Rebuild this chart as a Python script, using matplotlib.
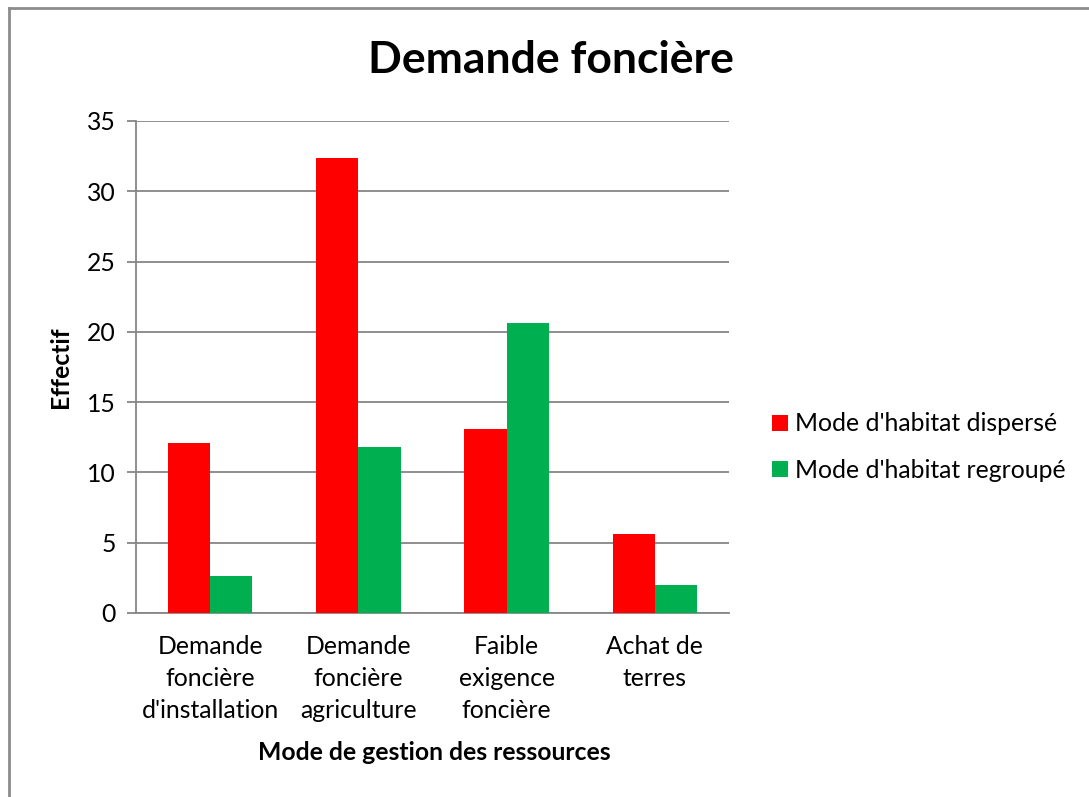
import numpy as np
import matplotlib.pyplot as plt
from matplotlib.lines import Line2D

plt.rcParams['font.family'] = ['Lato', 'DejaVu Sans']

categories = ["Demande\nfoncière\nd'installation", "Demande\nfoncière\nagriculture",
              "Faible\nexigence\nfoncière", "Achat de\nterres"]
disperse = [12.1, 32.4, 13.1, 5.6]
regroupe = [2.6, 11.8, 20.6, 2.0]
series_names = ["Mode d'habitat dispersé", "Mode d'habitat regroupé"]
y_ticks = [0, 5, 10, 15, 20, 25, 30, 35]

red = '#ff0000'
green = '#00b050'
grid_col = '#868686'
fs = 17.8

fig = plt.figure(figsize=(10.89, 7.97), dpi=100)
ax = fig.add_axes([136 / 1089, 1 - 613 / 797, 593 / 1089, 492 / 797])

x = np.arange(len(categories))
w = 1 / 3.5
ax.bar(x - w / 2, disperse, w, color=red, label=series_names[0], zorder=3)
ax.bar(x + w / 2, regroupe, w, color=green, label=series_names[1], zorder=3)

ax.set_xlim(-0.5, len(categories) - 0.5)
ax.set_ylim(0, 35)
ax.set_yticks(y_ticks)
ax.set_xticks(x)
ax.set_xticklabels(categories, fontsize=fs, linespacing=1.47)
ax.tick_params(axis='y', labelsize=fs, length=6.5, width=1.3, color=grid_col, direction='out', pad=8)
ax.tick_params(axis='x', length=0, pad=16)
ax.yaxis.grid(True, color=grid_col, linewidth=1.3, zorder=0)
for s in ['top', 'right']:
    ax.spines[s].set_visible(False)
for s in ['left', 'bottom']:
    ax.spines[s].set_color(grid_col)
    ax.spines[s].set_linewidth(1.3)

fig.text(0.506, 1 - 60 / 797, "Demande foncière", fontsize=32, fontweight='bold',
         ha='center', va='center')
fig.text(434 / 1089, 1 - 752 / 797, "Mode de gestion des ressources", fontsize=fs,
         fontweight='bold', ha='center', va='center')
fig.text(60 / 1089, 1 - 367 / 797, "Effectif", fontsize=fs, fontweight='bold',
         ha='center', va='center', rotation=90)

fig.legend(loc='center left', bbox_to_anchor=(750 / 1089, 1 - 447 / 797), frameon=False,
           fontsize=fs, handlelength=0.62, handleheight=0.62, handletextpad=0.3,
           labelspacing=0.95)

# chart border (only top and left visible in the reference)
fig.add_artist(Line2D([9 / 1089, 9 / 1089], [0, 1 - 8 / 797], color='#8c8c8c', linewidth=2))
fig.add_artist(Line2D([9 / 1089, 1], [1 - 8 / 797, 1 - 8 / 797], color='#8c8c8c', linewidth=2))

fig.savefig('out.png', dpi=100)
